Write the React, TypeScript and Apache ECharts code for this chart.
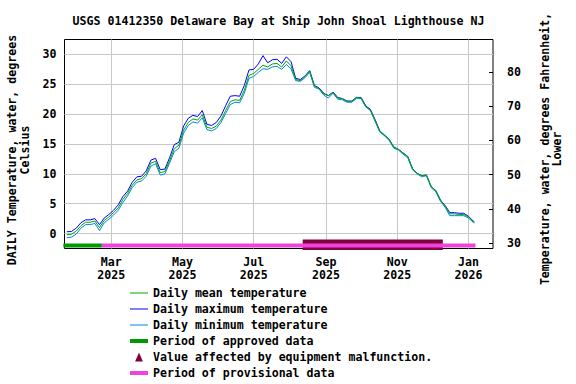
import React, { useEffect, useRef } from "react";
import * as echarts from "echarts";

// ---- data ----
const dates = [
  "2025-01-22", "2025-01-26", "2025-01-30", "2025-02-03", "2025-02-07", "2025-02-11", "2025-02-15", "2025-02-19", "2025-02-23", "2025-02-27",
  "2025-03-03", "2025-03-07", "2025-03-11", "2025-03-15", "2025-03-19", "2025-03-23", "2025-03-27", "2025-03-31", "2025-04-04", "2025-04-08",
  "2025-04-12", "2025-04-16", "2025-04-20", "2025-04-24", "2025-04-28", "2025-05-02", "2025-05-06", "2025-05-10", "2025-05-14", "2025-05-18",
  "2025-05-22", "2025-05-26", "2025-05-30", "2025-06-03", "2025-06-07", "2025-06-11", "2025-06-15", "2025-06-19", "2025-06-23", "2025-06-27",
  "2025-07-01", "2025-07-05", "2025-07-09", "2025-07-13", "2025-07-17", "2025-07-21", "2025-07-25", "2025-07-29", "2025-08-02", "2025-08-06",
  "2025-08-10", "2025-08-14", "2025-08-18", "2025-08-22", "2025-08-26", "2025-08-30", "2025-09-03", "2025-09-07", "2025-09-11", "2025-09-15",
  "2025-09-19", "2025-09-23", "2025-09-27", "2025-10-01", "2025-10-05", "2025-10-09", "2025-10-13", "2025-10-17", "2025-10-21", "2025-10-25",
  "2025-10-29", "2025-11-02", "2025-11-06", "2025-11-10", "2025-11-14", "2025-11-18", "2025-11-22", "2025-11-26", "2025-11-30", "2025-12-04",
  "2025-12-08", "2025-12-12", "2025-12-16", "2025-12-20", "2025-12-24", "2025-12-28", "2026-01-01", "2026-01-05", "2026-01-06",
];

const maxTemp = [
  0.3, 0.35, 0.9, 1.8, 2.3, 2.3, 2.5, 1.5, 2.6, 3.2,
  3.9, 4.8, 6.2, 7.1, 8.6, 9.5, 9.6, 10.5, 12.3, 12.6,
  10.7, 10.8, 12.7, 14.9, 15.3, 18.0, 19.3, 19.8, 19.6, 20.6,
  18.3, 18.1, 18.6, 19.7, 21.4, 23.0, 23.1, 23.0, 24.8, 27.4,
  27.5, 28.4, 29.8, 28.6, 29.1, 29.2, 28.5, 29.6, 28.8, 26.0,
  25.8, 26.4, 27.3, 24.8, 24.4, 23.5, 23.1, 23.7, 22.8, 22.6,
  22.2, 22.2, 22.8, 22.8, 21.4, 20.8, 19.1, 17.2, 16.5, 15.8,
  14.5, 14.1, 13.5, 12.9, 10.9, 10.1, 9.7, 9.8, 7.9, 7.2,
  5.6, 4.7, 3.5, 3.5, 3.4, 3.4, 2.9, 2.1, 2.0,
];

const meanTemp = [
  -0.2, -0.1, 0.4, 1.3, 1.9, 1.9, 2.1, 1.0, 2.2, 2.8,
  3.5, 4.3, 5.7, 6.7, 8.1, 9.0, 9.2, 10.0, 11.8, 12.1,
  10.2, 10.4, 12.2, 14.2, 14.8, 17.3, 18.6, 19.2, 19.0, 19.9,
  17.8, 17.6, 18.0, 19.0, 20.6, 22.1, 22.4, 22.3, 24.0, 26.5,
  26.8, 27.5, 28.2, 27.9, 28.4, 28.5, 27.9, 28.9, 28.1, 25.8,
  25.6, 26.3, 27.2, 24.7, 24.3, 23.4, 23.1, 23.6, 22.7, 22.6,
  22.1, 22.1, 22.8, 22.7, 21.3, 20.7, 19.0, 17.2, 16.5, 15.8,
  14.5, 14.1, 13.5, 12.9, 10.9, 10.1, 9.7, 9.8, 7.9, 7.2,
  5.6, 4.6, 3.3, 3.3, 3.2, 3.2, 2.8, 2.0, 1.9,
];

const minTemp = [
  -0.7, -0.6, -0.1, 0.9, 1.5, 1.5, 1.7, 0.5, 1.8, 2.4,
  3.1, 3.9, 5.2, 6.3, 7.7, 8.6, 8.8, 9.6, 11.3, 11.7,
  9.8, 10.0, 11.8, 13.7, 14.3, 16.8, 18.1, 18.7, 18.5, 19.4,
  17.4, 17.2, 17.6, 18.6, 20.1, 21.6, 22.0, 21.9, 23.5, 26.0,
  26.3, 27.0, 27.6, 27.5, 27.9, 28.0, 27.5, 28.3, 27.6, 25.6,
  25.5, 26.1, 27.0, 24.5, 24.2, 23.2, 22.7, 23.5, 22.5, 22.4,
  22.0, 22.0, 22.6, 22.6, 21.2, 20.6, 18.8, 17.0, 16.4, 15.6,
  14.3, 14.0, 13.3, 12.7, 10.7, 10.0, 9.5, 9.7, 7.7, 7.0,
  5.4, 4.4, 3.0, 3.0, 3.0, 3.0, 2.6, 1.9, 1.8,
];

const approvedPeriod = ["2025-01-19", "2025-02-21"];
const provisionalPeriod = ["2025-02-21", "2026-01-07"];
const malfunctionPeriod = ["2025-08-12", "2025-12-10"];

const xRange = ["2025-01-20", "2026-01-22"];
const xTickDates = ["2025-03-01", "2025-05-01", "2025-07-01", "2025-09-01", "2025-11-01", "2026-01-01"];
const monthNames = ["Jan", "Feb", "Mar", "Apr", "May", "Jun", "Jul", "Aug", "Sep", "Oct", "Nov", "Dec"];
const celsiusTicks = [0, 5, 10, 15, 20, 25, 30];
const fahrenheitTicks = [30, 40, 50, 60, 70, 80];

const titleText = "USGS 01412350 Delaware Bay at Ship John Shoal Lighthouse NJ";
const leftAxisName = "DAILY Temperature, water, degrees\nCelsius";
const rightAxisName = "Temperature, water, degrees Fahrenheit,\nLower";

const NAMES = {
  mean: "Daily mean temperature",
  max: "Daily maximum temperature",
  min: "Daily minimum temperature",
  approved: "Period of approved data",
  malfunction: "Value affected by equipment malfunction.",
  provisional: "Period of provisional data",
};

const COLORS = {
  mean: "#00a800",
  max: "#0000ff",
  min: "#0088dd",
  approved: "#009900",
  malfunction: "#800040",
  provisional: "#ee44dd",
};

const FONT = '"DejaVu Sans Mono", "Liberation Mono", monospace';
const FS = 11.6;

const toTs = (s: string) => Date.parse(s + "T00:00:00Z");

const THIN_ICON = "path://M0,0L18,0L18,1L0,1Z";
const THICK_ICON = "path://M0,0L18,0L18,4L0,4Z";
const TRI_ICON = "path://M3.5,0L7,8L0,8Z";

export default function App() {
  const ref = useRef<HTMLDivElement>(null);

  useEffect(() => {
    document.body.style.margin = "0";
    if (!ref.current) return;
    const chart = echarts.init(ref.current, null, { renderer: "svg" });

    const lineSeries = (name: string, values: number[], color: string) => ({
      name,
      type: "line",
      data: dates.map((d, i) => [toTs(d), values[i]]),
      symbol: "none",
      showSymbol: false,
      lineStyle: { color, width: 1 },
      itemStyle: { color },
      silent: true,
    });

    const periodSeries = (name: string, period: string[], color: string, width: number, level: number) => ({
      name,
      type: "line",
      data: period.map((d) => [toTs(d), level]),
      symbol: "none",
      showSymbol: false,
      clip: false,
      lineStyle: { color, width, cap: "butt" },
      itemStyle: { color },
      silent: true,
    });

    const labelStyle = { color: "#000", fontFamily: FONT, fontWeight: "bold", fontSize: FS };
    const xTicks = xTickDates.map(toTs);

    const option: any = {
      animation: false,
      backgroundColor: "#ffffff",
      textStyle: { fontFamily: FONT },
      grid: {
        left: 64.5,
        top: 39.5,
        width: 428.5,
        height: 209,
        show: true,
        borderColor: "#000",
        borderWidth: 1,
        backgroundColor: "transparent",
        containLabel: false,
        outerBoundsMode: "none",
      },
      xAxis: {
        type: "value",
        min: toTs(xRange[0]),
        max: toTs(xRange[1]),
        axisLine: { show: false },
        axisTick: { show: false, customValues: xTicks },
        axisLabel: {
          ...labelStyle,
          customValues: xTicks,
          margin: 7,
          lineHeight: 13,
          formatter: (v: number) => {
            const d = new Date(v);
            return monthNames[d.getUTCMonth()] + "\n" + d.getUTCFullYear();
          },
        },
        splitLine: { show: true, lineStyle: { color: "#c8c8c8", width: 1 } },
      },
      yAxis: [
        {
          type: "value",
          position: "left",
          min: -2.5,
          max: 32.5,
          axisLine: { show: false },
          axisTick: { show: false, customValues: celsiusTicks },
          axisLabel: { ...labelStyle, customValues: celsiusTicks, margin: 8 },
          splitLine: { show: true, lineStyle: { color: "#c8c8c8", width: 1 } },
        },
        {
          type: "value",
          position: "right",
          min: 28.4,
          max: 89.5,
          axisLine: { show: false },
          axisTick: { show: true, inside: true, length: 4, customValues: fahrenheitTicks, lineStyle: { color: "#000", width: 1 } },
          axisLabel: { ...labelStyle, customValues: fahrenheitTicks, margin: 14 },
          splitLine: { show: false },
        },
      ],
      legend: {
        orient: "vertical",
        left: 130,
        top: 287,
        padding: 0,
        itemWidth: 18,
        itemHeight: 9,
        itemGap: 4,
        selectedMode: false,
        symbolKeepAspect: true,
        textStyle: { ...labelStyle, lineHeight: 12 },
        data: [
          { name: NAMES.mean, icon: THIN_ICON, itemStyle: { color: COLORS.mean, borderWidth: 0 } },
          { name: NAMES.max, icon: THIN_ICON, itemStyle: { color: COLORS.max, borderWidth: 0 } },
          { name: NAMES.min, icon: THIN_ICON, itemStyle: { color: COLORS.min, borderWidth: 0 } },
          { name: NAMES.approved, icon: THICK_ICON, itemStyle: { color: COLORS.approved, borderWidth: 0 } },
          { name: NAMES.malfunction, icon: TRI_ICON, itemStyle: { color: COLORS.malfunction, borderWidth: 0 } },
          { name: NAMES.provisional, icon: THICK_ICON, itemStyle: { color: COLORS.provisional, borderWidth: 0 } },
        ],
      },
      graphic: [
        {
          type: "text",
          x: 278.5,
          y: 21,
          style: { text: titleText, fill: "#000", fontFamily: FONT, fontWeight: "bold", fontSize: FS, align: "center", verticalAlign: "middle" },
        },
        {
          type: "text",
          x: 18.5,
          y: 150,
          rotation: Math.PI / 2,
          style: { text: leftAxisName, fill: "#000", fontFamily: FONT, fontWeight: "bold", fontSize: FS, lineHeight: 12.5, align: "center", verticalAlign: "middle" },
        },
        {
          type: "text",
          x: 551,
          y: 149,
          rotation: Math.PI / 2,
          style: { text: rightAxisName, fill: "#000", fontFamily: FONT, fontWeight: "bold", fontSize: FS, lineHeight: 12.5, align: "center", verticalAlign: "middle" },
        },
      ],
      series: [
        periodSeries(NAMES.malfunction, malfunctionPeriod, COLORS.malfunction, 10.5, -1.88),
        periodSeries(NAMES.approved, approvedPeriod, COLORS.approved, 4, -2.0),
        periodSeries(NAMES.provisional, provisionalPeriod, COLORS.provisional, 4, -2.0),
        lineSeries(NAMES.max, maxTemp, COLORS.max),
        lineSeries(NAMES.min, minTemp, COLORS.min),
        lineSeries(NAMES.mean, meanTemp, COLORS.mean),
      ],
    };

    chart.setOption(option);
    return () => chart.dispose();
  }, []);

  return <div ref={ref} style={{ width: 576, height: 384 }} />;
}
